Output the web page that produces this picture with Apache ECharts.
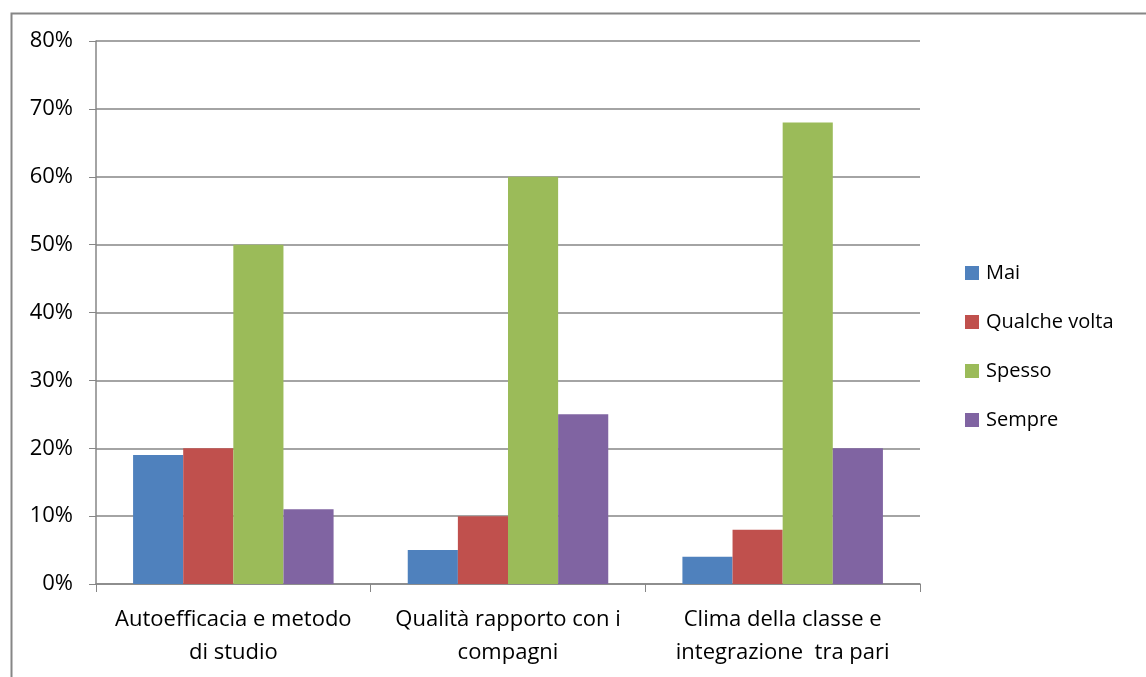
<!DOCTYPE html>
<html>
<head>
<meta charset="utf-8">
<script src="https://cdn.jsdelivr.net/npm/echarts@6/dist/echarts.min.js"></script>
<style>html,body{margin:0;padding:0;background:#fff}#c{width:1146px;height:677px}</style>
</head>
<body>
<div id="c"></div>
<script>
const categories = ["Autoefficacia e metodo\ndi studio", "Qualità rapporto con i\ncompagni", "Clima della classe e\nintegrazione  tra pari"];
const seriesNames = ["Mai", "Qualche volta", "Spesso", "Sempre"];
const mai = [19, 5, 4];
const qualcheVolta = [20, 10, 8];
const spesso = [50, 60, 68];
const sempre = [11, 25, 20];
const yTicks = [0, 10, 20, 30, 40, 50, 60, 70, 80];
const colors = ["#4F81BD", "#C0504D", "#9BBB59", "#8064A2"];
const values = [mai, qualcheVolta, spesso, sempre];

const font = "'Open Sans', 'Noto Sans', sans-serif";
const chart = echarts.init(document.getElementById('c'));
chart.setOption({
  animation: false,
  graphic: [{
    type: 'rect', left: 9, top: 11, shape: {width: 1200, height: 700},
    style: {fill: 'none', stroke: '#868686', lineWidth: 2}, silent: true
  }],
  grid: {left: 96, right: 226, top: 41, bottom: 93},
  legend: {
    orient: 'vertical', left: 965, top: 263, padding: 0,
    itemWidth: 14, itemHeight: 14, itemGap: 29,
    icon: 'rect',
    textStyle: {fontFamily: font, fontSize: 20, color: '#000', padding: [0, 0, 0, 2]},
    data: seriesNames
  },
  xAxis: {
    type: 'category', data: categories,
    axisLine: {lineStyle: {color: '#868686', width: 1.5}},
    axisTick: {show: true, length: 8, alignWithLabel: false, lineStyle: {color: '#868686'}},
    axisLabel: {fontFamily: font, fontSize: 22, color: '#000', margin: 19, lineHeight: 33, interval: 0}
  },
  yAxis: {
    type: 'value', min: 0, max: 80, interval: 10,
    axisLine: {show: true, lineStyle: {color: '#868686', width: 1.5}},
    axisTick: {show: true, length: 7, lineStyle: {color: '#868686'}},
    splitLine: {lineStyle: {color: '#868686', width: 1.5}},
    axisLabel: {fontFamily: font, fontSize: 22, color: '#000', margin: 23,
      formatter: v => yTicks.includes(v) ? v + '%' : ''}
  },
  series: seriesNames.map((n, i) => ({
    name: n, type: 'bar', data: values[i],
    itemStyle: {color: colors[i]},
    barGap: '0%', barCategoryGap: '27%'
  }))
});
</script>
</body>
</html>
